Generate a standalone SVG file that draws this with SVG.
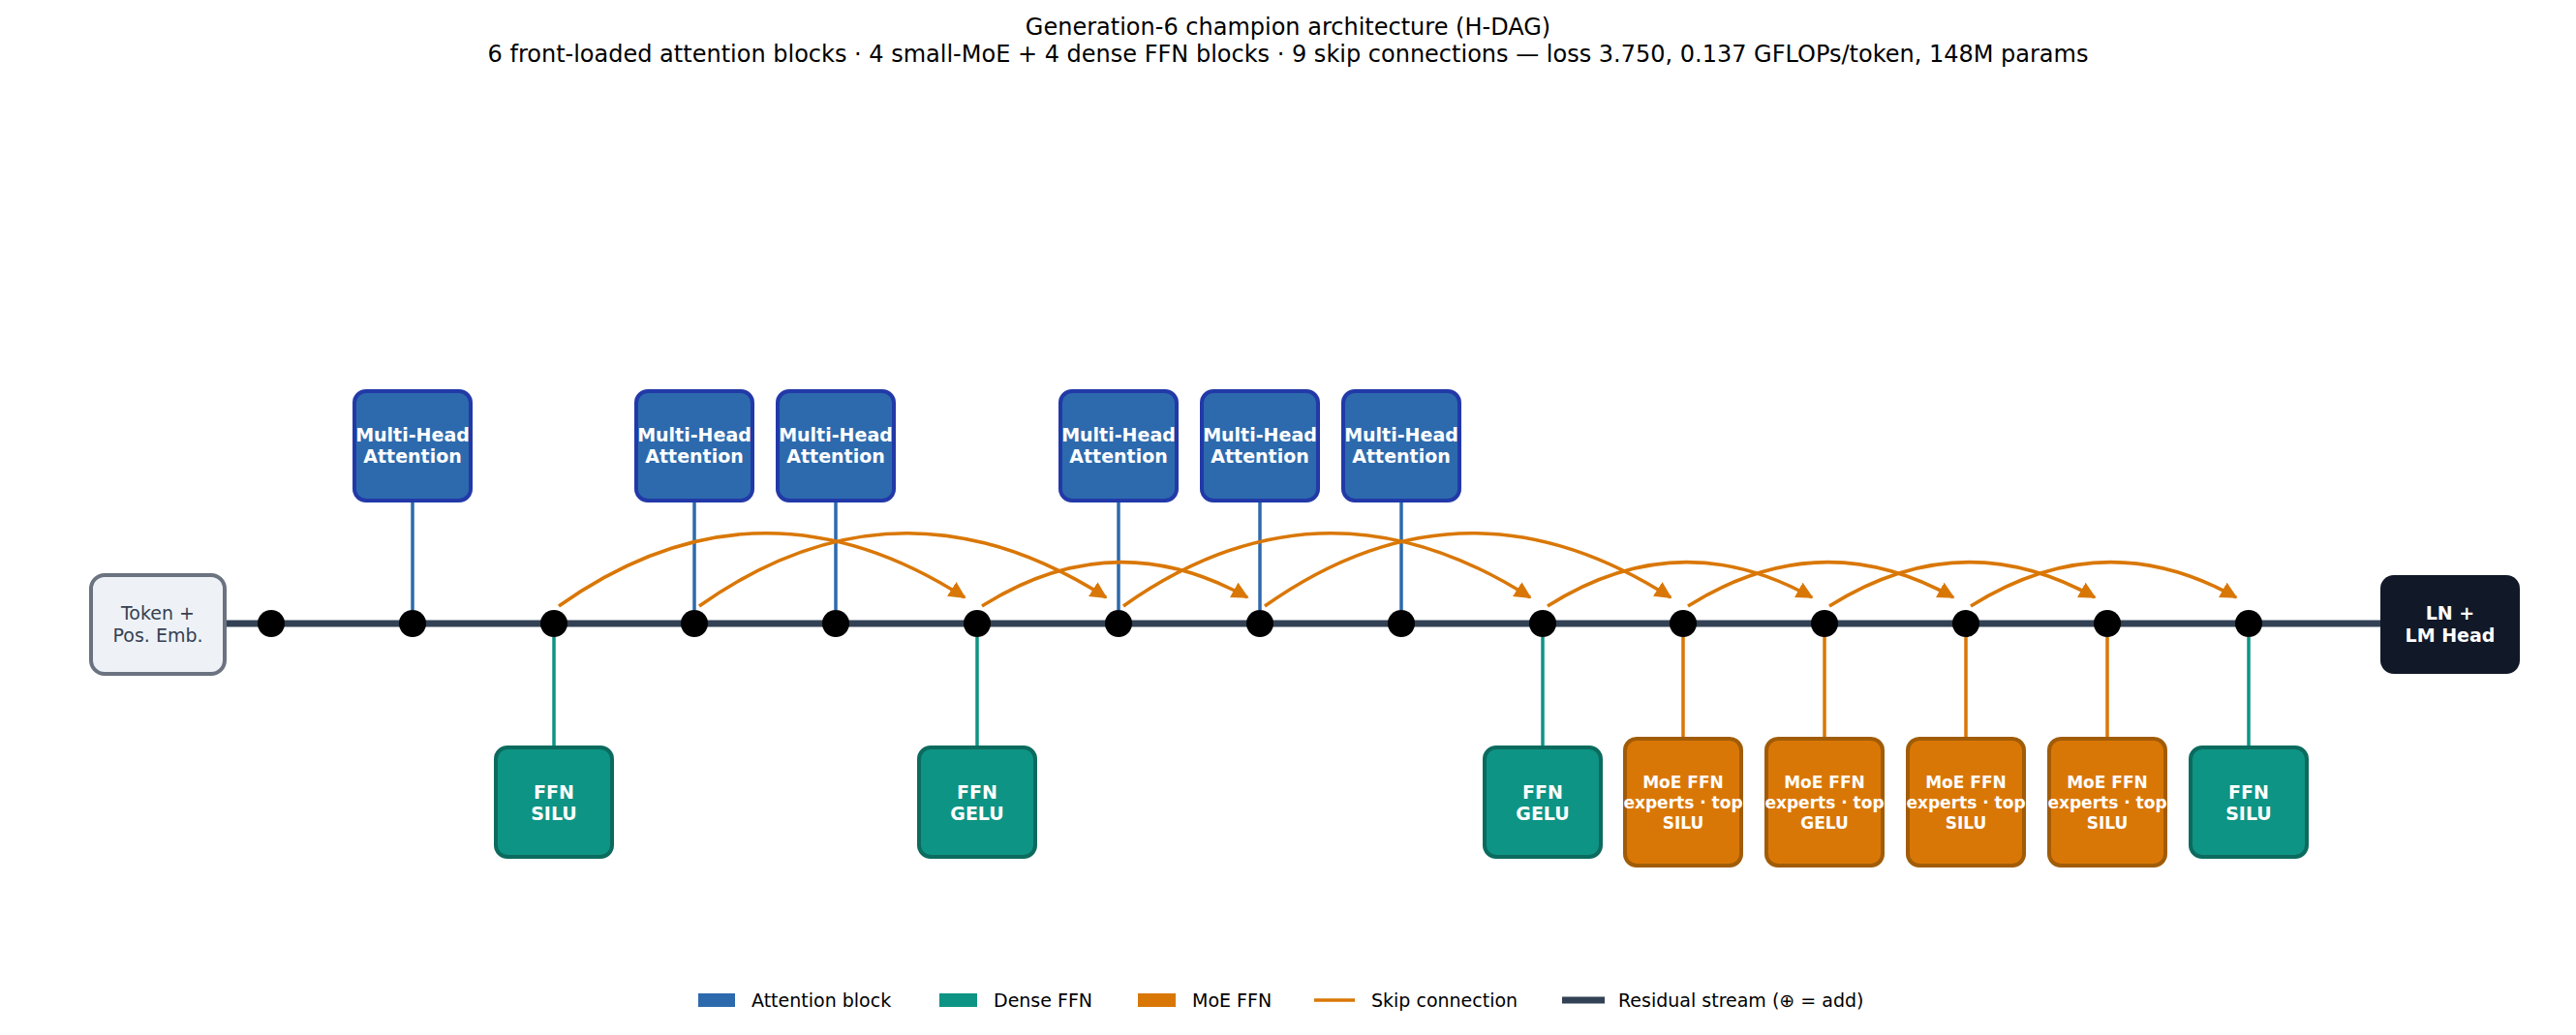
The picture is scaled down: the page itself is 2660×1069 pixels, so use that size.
<svg xmlns="http://www.w3.org/2000/svg" width="2660" height="1069" viewBox="0 0 2660 1069">
<style>
text{font-family:"DejaVu Sans",sans-serif;text-anchor:middle}
.t{font-size:24px;fill:#000}
.attn rect{fill:#2d6aad;stroke:#2239a8;stroke-width:4}
.ffn rect{fill:#0e9484;stroke:#0b6b5e;stroke-width:4}
.moe rect{fill:#d97706;stroke:#a15c07;stroke-width:4}
.lbl{font-size:19px;font-weight:bold;fill:#fff}
.ml{font-size:17px;font-weight:bold;fill:#fff}
.add circle{fill:#fff;stroke:#334155;stroke-width:4}
.add path{stroke:#334155;stroke-width:3;fill:none}
.va{stroke:#2d6aad;stroke-width:3.5}
.vf{stroke:#0e9484;stroke-width:3.5}
.vm{stroke:#d97706;stroke-width:3.5}
.sk{stroke:#d97706;stroke-width:3.5;fill:none;marker-end:url(#ah)}
.lg{font-size:19px;fill:#000;text-anchor:start}
</style>
<defs>
<marker id="ah" viewBox="0 0 10 10" refX="9" refY="5" markerWidth="5" markerHeight="5" orient="auto" markerUnits="strokeWidth"><path d="M0,0 L10,5 L0,10 z" fill="#d97706"/></marker>
<g id="plus"><circle r="14"/><path d="M-8,0 H8 M0,-8 V8"/></g>
</defs>
<rect width="2660" height="1069" fill="#fff"/>
<text class="t" x="1330" y="36">Generation-6 champion architecture (H-DAG)</text>
<text class="t" x="1330" y="64">6 front-loaded attention blocks · 4 small-MoE + 4 dense FFN blocks · 9 skip connections   —  loss 3.750,  0.137 GFLOPs/token,  148M params</text>
<g id="connectors">
<line x1="231" y1="644" x2="2460" y2="644" stroke="#334155" stroke-width="7"/>
<line class="va" x1="426" y1="517" x2="426" y2="630"/>
<line class="va" x1="717" y1="517" x2="717" y2="630"/>
<line class="va" x1="863" y1="517" x2="863" y2="630"/>
<line class="va" x1="1155" y1="517" x2="1155" y2="630"/>
<line class="va" x1="1301" y1="517" x2="1301" y2="630"/>
<line class="va" x1="1447" y1="517" x2="1447" y2="630"/>
<line class="vf" x1="572" y1="658" x2="572" y2="772"/>
<line class="vf" x1="1009" y1="658" x2="1009" y2="772"/>
<line class="vf" x1="1593" y1="658" x2="1593" y2="772"/>
<line class="vf" x1="2322" y1="658" x2="2322" y2="772"/>
<line class="vm" x1="1738" y1="658" x2="1738" y2="763"/>
<line class="vm" x1="1884" y1="658" x2="1884" y2="763"/>
<line class="vm" x1="2030" y1="658" x2="2030" y2="763"/>
<line class="vm" x1="2176" y1="658" x2="2176" y2="763"/>
<path class="sk" d="M577,626 Q783,480 996,617"/>
<path class="sk" d="M722,626 Q928,480 1142,617"/>
<path class="sk" d="M1014,626 Q1150,540 1288,617"/>
<path class="sk" d="M1160,626 Q1366,480 1580,617"/>
<path class="sk" d="M1306,626 Q1512,480 1725,617"/>
<path class="sk" d="M1598,626 Q1734,540 1871,617"/>
<path class="sk" d="M1743,626 Q1880,540 2017,617"/>
<path class="sk" d="M1889,626 Q2026,540 2163,617"/>
<path class="sk" d="M2035,626 Q2172,540 2309,617"/>
</g>
<g id="adds" class="add">
<use href="#plus" x="280" y="644"/><use href="#plus" x="426" y="644"/><use href="#plus" x="572" y="644"/><use href="#plus" x="717" y="644"/><use href="#plus" x="863" y="644"/><use href="#plus" x="1009" y="644"/><use href="#plus" x="1155" y="644"/><use href="#plus" x="1301" y="644"/><use href="#plus" x="1447" y="644"/><use href="#plus" x="1593" y="644"/><use href="#plus" x="1738" y="644"/><use href="#plus" x="1884" y="644"/><use href="#plus" x="2030" y="644"/><use href="#plus" x="2176" y="644"/><use href="#plus" x="2322" y="644"/>
</g>
<g id="embed"><rect x="94" y="594" width="138" height="102" rx="14" fill="#eef2f7" stroke="#6b7280" stroke-width="4"/><text x="163" y="640" font-size="19" fill="#374151">Token +</text><text x="163" y="663" font-size="19" fill="#374151">Pos. Emb.</text></g>
<g id="head"><rect x="2458" y="594" width="144" height="102" rx="14" fill="#111827"/><text class="lbl" x="2530" y="640">LN +</text><text class="lbl" x="2530" y="663">LM Head</text></g>
<g id="attn1" class="attn"><rect x="366" y="404" width="120" height="113" rx="12"/><text class="lbl" x="426" y="456">Multi-Head</text><text class="lbl" x="426" y="478">Attention</text></g>
<g id="attn2" class="attn"><rect x="657" y="404" width="120" height="113" rx="12"/><text class="lbl" x="717" y="456">Multi-Head</text><text class="lbl" x="717" y="478">Attention</text></g>
<g id="attn3" class="attn"><rect x="803" y="404" width="120" height="113" rx="12"/><text class="lbl" x="863" y="456">Multi-Head</text><text class="lbl" x="863" y="478">Attention</text></g>
<g id="attn4" class="attn"><rect x="1095" y="404" width="120" height="113" rx="12"/><text class="lbl" x="1155" y="456">Multi-Head</text><text class="lbl" x="1155" y="478">Attention</text></g>
<g id="attn5" class="attn"><rect x="1241" y="404" width="120" height="113" rx="12"/><text class="lbl" x="1301" y="456">Multi-Head</text><text class="lbl" x="1301" y="478">Attention</text></g>
<g id="attn6" class="attn"><rect x="1387" y="404" width="120" height="113" rx="12"/><text class="lbl" x="1447" y="456">Multi-Head</text><text class="lbl" x="1447" y="478">Attention</text></g>
<g id="ffn1" class="ffn"><rect x="512" y="772" width="120" height="113" rx="12"/><text class="lbl" x="572" y="825">FFN</text><text class="lbl" x="572" y="847">SILU</text></g>
<g id="ffn2" class="ffn"><rect x="949" y="772" width="120" height="113" rx="12"/><text class="lbl" x="1009" y="825">FFN</text><text class="lbl" x="1009" y="847">GELU</text></g>
<g id="ffn3" class="ffn"><rect x="1533" y="772" width="120" height="113" rx="12"/><text class="lbl" x="1593" y="825">FFN</text><text class="lbl" x="1593" y="847">GELU</text></g>
<g id="ffn4" class="ffn"><rect x="2262" y="772" width="120" height="113" rx="12"/><text class="lbl" x="2322" y="825">FFN</text><text class="lbl" x="2322" y="847">SILU</text></g>
<g id="moe1" class="moe"><rect x="1678" y="763" width="120" height="131" rx="12"/><text class="ml" x="1738" y="814">MoE FFN</text><text class="ml" x="1738" y="835">experts · top</text><text class="ml" x="1738" y="856">SILU</text></g>
<g id="moe2" class="moe"><rect x="1824" y="763" width="120" height="131" rx="12"/><text class="ml" x="1884" y="814">MoE FFN</text><text class="ml" x="1884" y="835">experts · top</text><text class="ml" x="1884" y="856">GELU</text></g>
<g id="moe3" class="moe"><rect x="1970" y="763" width="120" height="131" rx="12"/><text class="ml" x="2030" y="814">MoE FFN</text><text class="ml" x="2030" y="835">experts · top</text><text class="ml" x="2030" y="856">SILU</text></g>
<g id="moe4" class="moe"><rect x="2116" y="763" width="120" height="131" rx="12"/><text class="ml" x="2176" y="814">MoE FFN</text><text class="ml" x="2176" y="835">experts · top</text><text class="ml" x="2176" y="856">SILU</text></g>
<g id="legend">
<rect x="721" y="1026" width="38" height="14" fill="#2d6aad"/><text class="lg" x="776" y="1040">Attention block</text>
<rect x="970" y="1026" width="39" height="14" fill="#0e9484"/><text class="lg" x="1026" y="1040">Dense FFN</text>
<rect x="1175" y="1026" width="39" height="14" fill="#d97706"/><text class="lg" x="1231" y="1040">MoE FFN</text>
<line x1="1357" y1="1033" x2="1399" y2="1033" stroke="#d97706" stroke-width="3.5"/><text class="lg" x="1416" y="1040">Skip connection</text>
<line x1="1613" y1="1033" x2="1657" y2="1033" stroke="#334155" stroke-width="7"/><text class="lg" x="1671" y="1040">Residual stream (⊕ = add)</text>
</g>
</svg>
